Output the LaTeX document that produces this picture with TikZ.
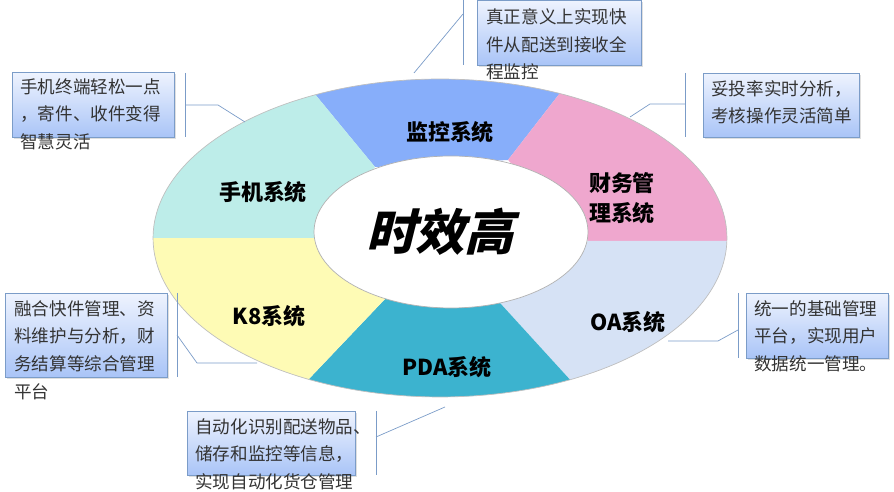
\documentclass[tikz,border=0pt]{standalone}
\usepackage{fontspec}
\newfontfamily\cjk{Noto Sans CJK SC}
\newfontfamily\cjkslant[FakeSlant=0.25]{Noto Sans CJK SC}
\usetikzlibrary{calc,shadows}
\definecolor{phonec}{HTML}{BDEDE9}
\definecolor{monic}{HTML}{87AEFA}
\definecolor{finc}{HTML}{EFA7CE}
\definecolor{oac}{HTML}{D6E2F5}
\definecolor{pdac}{HTML}{3CB3CF}
\definecolor{keightc}{HTML}{FEFBB5}
\definecolor{linec}{HTML}{7B9CC8}
\definecolor{boxtop}{HTML}{EEF3FE}
\definecolor{boxbot}{HTML}{A9C4F7}

\begin{document}
\begin{tikzpicture}[
    x=0.02cm,
    y=-0.02cm,
    seglabel/.style={
        font=\cjk\bfseries\fontsize{12.5}{18}\selectfont,
        align=center
    },
    callbox/.style={
        draw=linec,
        top color=boxtop,
        bottom color=boxbot,
        drop shadow={opacity=0.25,shadow xshift=1pt,shadow yshift=-1pt},
        anchor=north west,
        inner sep=0pt
    },
    calltext/.style={
        font=\cjk\fontsize{10}{15.8}\selectfont,
        text=black!80,
        align=left,
        anchor=north west,
        inner sep=0pt
    },
    callline/.style={
        draw=linec,
        thin
    }
    ]
    \useasboundingbox (0,0) rectangle (894,492);

    % ring boundaries
    \coordinate (i1) at (375,167); \coordinate (o1) at (314,93);
    \coordinate (i2) at (508,160); \coordinate (o2) at (560,93);
    \coordinate (i3) at (588,241); \coordinate (o3) at (726,241);
    \coordinate (i4) at (500,303); \coordinate (o4) at (573,383);
    \coordinate (i5) at (386,298); \coordinate (o5) at (308,380);
    \coordinate (i6) at (315,238); \coordinate (o6) at (153,238);
    \foreach \k in {1,...,6}{
        \coordinate (f\k) at ($(i\k)!4!(o\k)$);
    }

    \foreach \a/\b/\col in {1/2/monic,2/3/finc,3/4/oac,4/5/pdac,5/6/keightc,6/1/phonec}{
        \begin{scope}
            \clip (i\a) -- (f\a) -- (f\b) -- (i\b) -- cycle;
            \fill[\col] (440,238) ellipse (5.74cm and 3.18cm);
        \end{scope}
    }
    \draw[black!25,thin] (440,238) ellipse (5.74cm and 3.18cm);
    \fill[white,draw=black!30,thin] (451,232) ellipse (2.74cm and 1.52cm);

    \node[font=\cjkslant\bfseries\fontsize{28}{32}\selectfont] (core) at (440,232) {时效高};

    \node[seglabel] (mon) at (450,132) {监控系统};
    \node[seglabel] (fin) at (622,198) {财务管\\[-1pt]理系统};
    \node[seglabel] (oa) at (628,322) {OA系统};
    \node[seglabel] (pda) at (447,367) {PDA系统};
    \node[seglabel] (keight) at (269,316) {K8系统};
    \node[seglabel] (phone) at (263,192) {手机系统};

    % phone callout
    \node[callbox,minimum width=162*0.02cm,minimum height=65*0.02cm] (phonebox) at (12,72) {};
    \node[calltext] (phonetxt) at (20,78) {手机终端轻松一点\\，寄件、收件变得\\智慧灵活};
    \coordinate (phonebar) at (185,105);
    \draw[callline] (185,73) -- (185,137);
    \draw[callline] (phonebar) -- ++(33,0) -- (245,122);

    % monitoring callout
    \node[callbox,minimum width=164*0.02cm,minimum height=65*0.02cm] (monbox) at (477,0) {};
    \node[calltext] (montxt) at (486,8) {真正意义上实现快\\件从配送到接收全\\程监控};
    \coordinate (monbar) at (463,14);
    \draw[callline] (463,0) -- (463,65);
    \draw[callline] (monbar) -- (414,73);

    % finance callout
    \node[callbox,minimum width=156*0.02cm,minimum height=64*0.02cm] (finbox) at (703,73) {};
    \node[calltext] (fintxt) at (711,80) {妥投率实时分析，\\考核操作灵活简单};
    \coordinate (finbar) at (685,104);
    \draw[callline] (685,73) -- (685,137);
    \draw[callline] (finbar) -- ++(-35,0) -- (630,117);

    % OA callout
    \node[callbox,minimum width=142*0.02cm,minimum height=65*0.02cm] (oabox) at (746,293) {};
    \node[calltext] (oatxt) at (754,300) {统一的基础管理\\平台，实现用户\\数据统一管理。};
    \coordinate (oabar) at (738,330);
    \draw[callline] (738,293) -- (738,358);
    \draw[callline] (oabar) -- (718,341) -- (668,341);

    % PDA callout
    \node[callbox,minimum width=168*0.02cm,minimum height=64*0.02cm] (pdabox) at (187,411) {};
    \node[calltext] (pdatxt) at (195,418) {自动化识别配送物品、\\储存和监控等信息，\\实现自动化货仓管理};
    \coordinate (pdabar) at (376,437);
    \draw[callline] (376,411) -- (376,475);
    \draw[callline] (pdabar) -- (445,407);

    % K8 callout
    \node[callbox,minimum width=162*0.02cm,minimum height=84*0.02cm] (keightbox) at (5,293) {};
    \node[calltext] (keighttxt) at (14,300) {融合快件管理、资\\料维护与分析，财\\务结算等综合管理\\平台};
    \coordinate (keightbar) at (177,335);
    \draw[callline] (177,293) -- (177,377);
    \draw[callline] (keightbar) -- (197,363) -- (257,363);
\end{tikzpicture}
\end{document}
